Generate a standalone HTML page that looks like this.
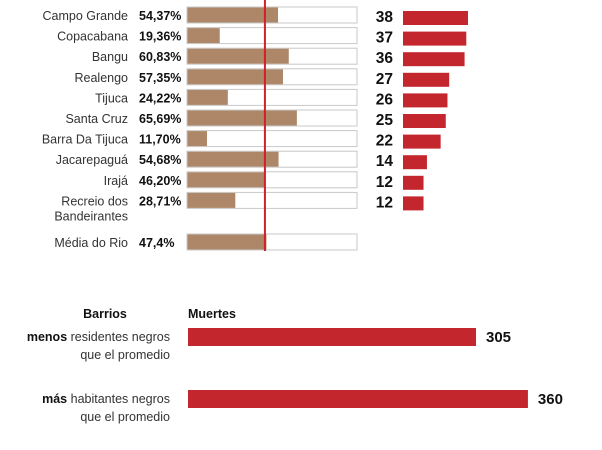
<!DOCTYPE html>
<html><head><meta charset="utf-8"><style>
body{margin:0;width:602px;height:450px;background:#fff;overflow:hidden;font-family:"Liberation Sans",sans-serif}
svg{display:block}
</style></head><body>
<svg id="c" width="602" height="450"></svg>
<script>
const names=["Campo Grande","Copacabana","Bangu","Realengo","Tijuca","Santa Cruz","Barra Da Tijuca","Jacarepaguá","Irajá","Recreio dos|Bandeirantes"];
const pcts=[54.37,19.36,60.83,57.35,24.22,65.69,11.70,54.68,46.20,28.71];
const deaths=[38,37,36,27,26,25,22,14,12,12];
const avgPct=47.4;
const groupLabels=[["menos"," residentes negros","que el promedio"],["más"," habitantes negros","que el promedio"]];
const groupDeaths=[305,360];

const svg=document.getElementById('c');
const NS='http://www.w3.org/2000/svg';
function mk(t,a,txt){const e=document.createElementNS(NS,t);for(const k in a)e.setAttribute(k,a[k]);if(txt!=null)e.textContent=txt;svg.appendChild(e);return e;}
const bx=187,bw=170;
const px=v=>bx+v/100*166.5;
const dx=v=>403+v*(65/38);
const gx=v=>188+v*(288/305);
const rowTop=i=>7+i*20.6;

names.forEach((n,i)=>{
  const y=rowTop(i);
  const parts=n.split('|');
  parts.forEach((p,j)=>{
    const t=mk('text',{x:128,y:y+13+j*15,'text-anchor':'end','font-size':12.5,fill:'#333'},p);
    
    
  });
  const pt=mk('text',{x:139,y:y+13,'font-size':12.5,'font-weight':'bold',fill:'#111'},pcts[i].toFixed(2).replace('.',',')+'%');
  
  
  const box=mk('rect',{x:bx,y:y,width:bw,height:16,fill:'#fff',stroke:'#c8c8c8','stroke-width':1});
  
  
  const b=mk('rect',{x:bx+0.5,y:y+0.5,width:px(pcts[i])-bx,height:15,fill:'#ad8767'});
  
  
  const dt=mk('text',{x:393,y:y+15,'text-anchor':'end','font-size':15.5,'font-weight':'bold',fill:'#111'},deaths[i]);
  
  
  const db=mk('rect',{x:403,y:y+4,width:dx(deaths[i])-403,height:14,fill:'#c4262e'});
  
  
});
const my=234;
let e=mk('text',{x:128,y:my+13,'text-anchor':'end','font-size':12.5,fill:'#333'},'Média do Rio');

e=mk('text',{x:139,y:my+13,'font-size':12.5,'font-weight':'bold',fill:'#111'},String(avgPct).replace('.',',')+'%');

e=mk('rect',{x:bx,y:my,width:bw,height:16,fill:'#fff',stroke:'#c8c8c8','stroke-width':1});

e=mk('rect',{x:bx+0.5,y:my+0.5,width:px(avgPct)-bx,height:15,fill:'#ad8767'});

e=mk('line',{x1:px(avgPct)-1,x2:px(avgPct)-1,y1:0,y2:251,stroke:'#d0202a','stroke-width':2});


e=mk('text',{x:105,y:318,'text-anchor':'middle','font-size':12.5,'font-weight':'bold',fill:'#111'},'Barrios');

e=mk('text',{x:188,y:318,'font-size':12.5,'font-weight':'bold',fill:'#111'},'Muertes');

groupDeaths.forEach((v,i)=>{
  const y=328+i*62;
  const t=mk('text',{x:170,y:y+13,'text-anchor':'end','font-size':12.5,fill:'#333'});
  
  const s1=document.createElementNS(NS,'tspan');s1.setAttribute('font-weight','bold');s1.setAttribute('fill','#111');s1.textContent=groupLabels[i][0];t.appendChild(s1);
  const s2=document.createElementNS(NS,'tspan');s2.textContent=groupLabels[i][1];t.appendChild(s2);
  const t2=mk('text',{x:170,y:y+31,'text-anchor':'end','font-size':12.5,fill:'#333'},groupLabels[i][2]);
  
  const b=mk('rect',{x:188,y:y,width:gx(v)-188,height:18,fill:'#c4262e'});
  
  const vt=mk('text',{x:gx(v)+10,y:y+14,'font-size':15,'font-weight':'bold',fill:'#111'},v);
  
});
</script>
</body></html>
